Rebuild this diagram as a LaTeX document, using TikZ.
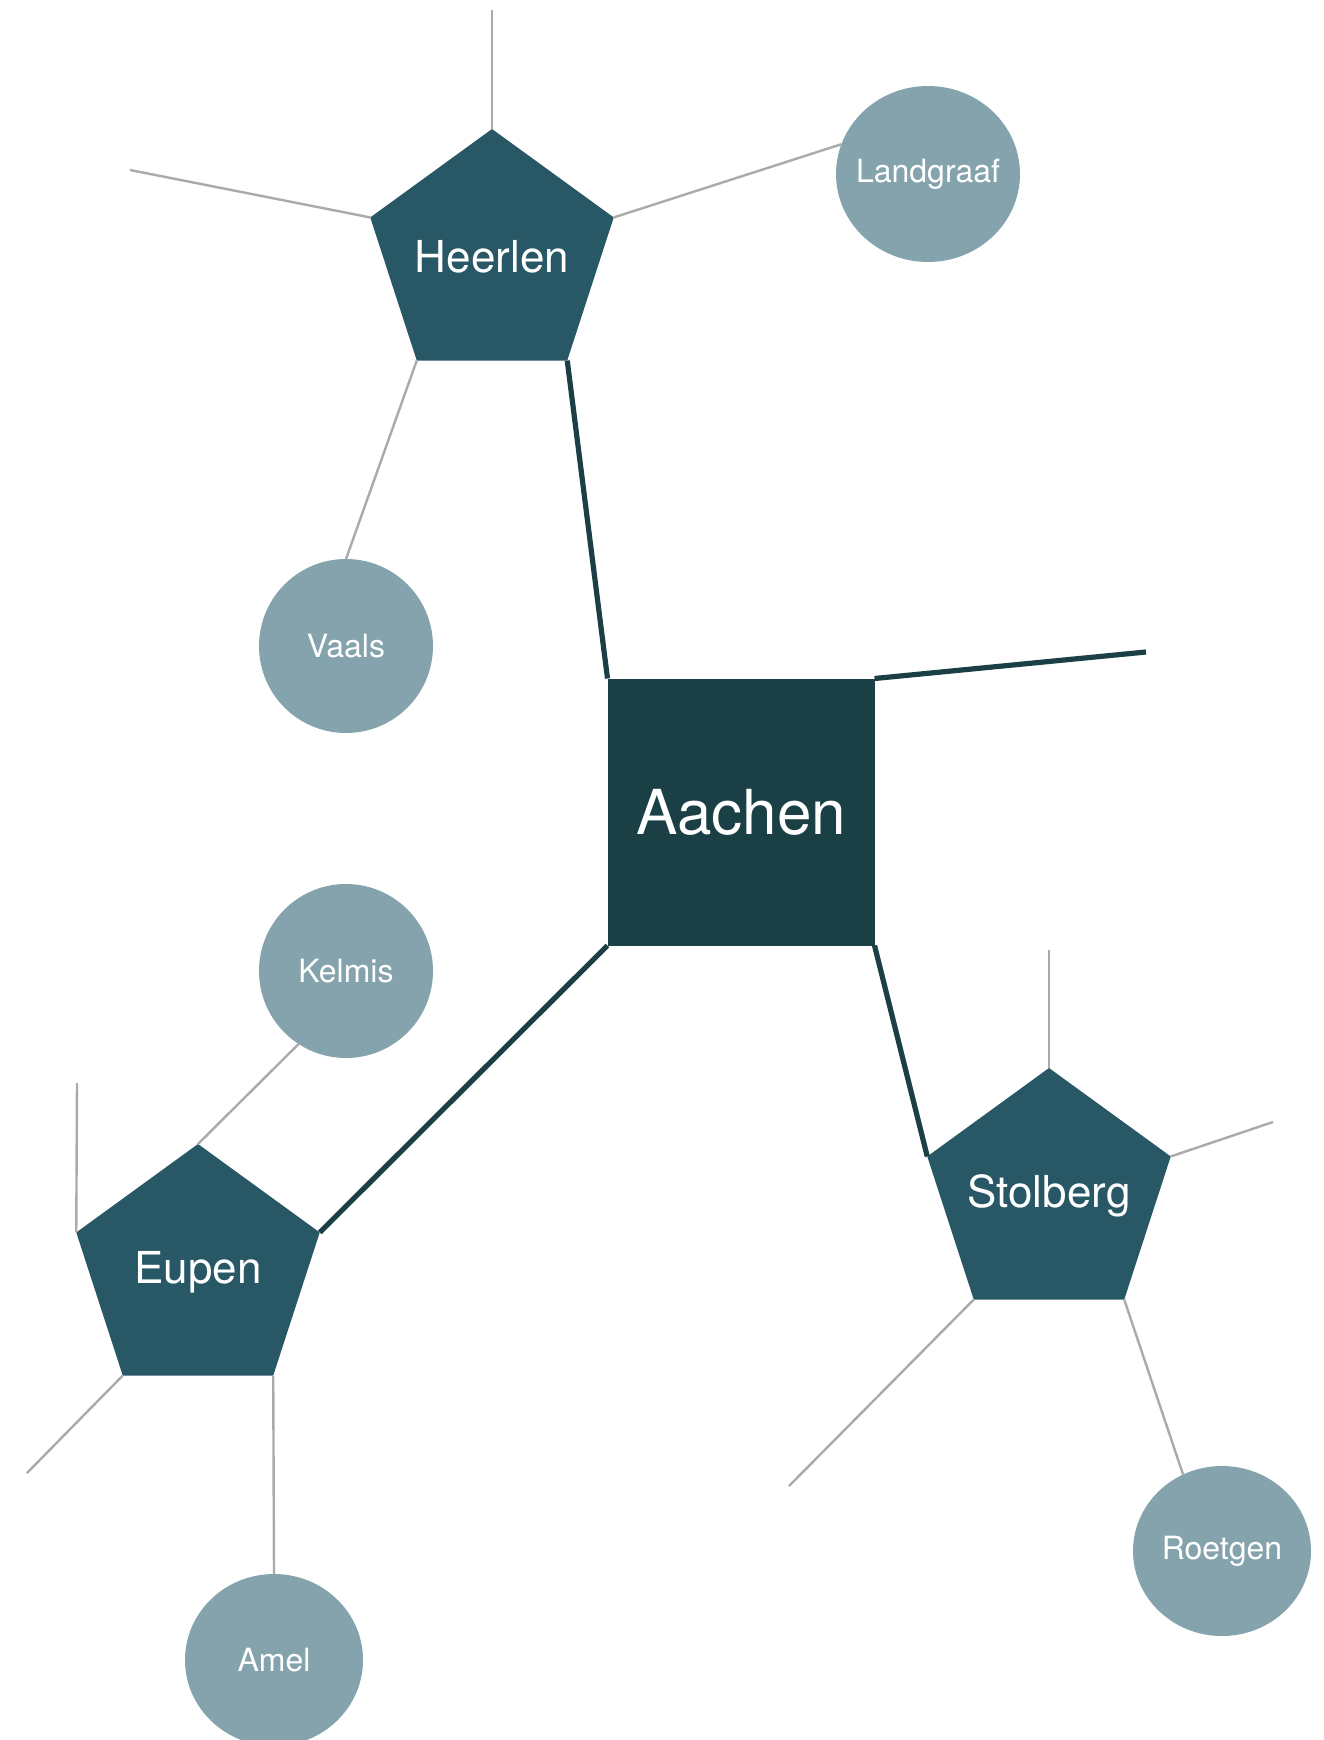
\documentclass[tikz,border=0pt]{standalone}
\usepackage{fontspec}
\setmainfont{TeX Gyre Heros}
\usepackage{tikz}
\usetikzlibrary{shapes.geometric}
\definecolor{hubcol}{HTML}{1A3F44}
\definecolor{citycol}{HTML}{285866}
\definecolor{towncol}{HTML}{84A3AD}
\definecolor{linkcol}{HTML}{AAAAAA}

\tikzset{
  hub/.style={rectangle, fill=hubcol, text=white, minimum width=133.5pt, minimum height=133.5pt,
    inner sep=0pt, outer sep=0pt, font=\fontsize{31}{36}\selectfont},
  city/.style={regular polygon, regular polygon sides=5, fill=citycol,
    minimum size=128pt, inner sep=0pt, outer sep=0pt,
    label={[text=white, font=\fontsize{22}{26}\selectfont]center:#1}},
  town/.style={ellipse, fill=towncol, minimum width=89pt, minimum height=86pt,
    inner sep=0pt, outer sep=0pt,
    label={[text=white, font=\fontsize{16}{19}\selectfont]center:#1}},
  mainlink/.style={draw=hubcol, line width=2.6pt},
  sidelink/.style={draw=linkcol, line width=1.2pt}
}

\begin{document}
\begin{tikzpicture}[x=0.5pt, y=-0.5pt]
\useasboundingbox (0,0) rectangle (1323,1740);

% centre
\node[hub] (aachen) at (741,812) {Aachen};

% cities
\node[city=Heerlen] (heerlen) at (492,257) {};
\node[city=Stolberg] (stolberg) at (1049,1196) {};
\node[city=Eupen] (eupen) at (198,1272) {};

% towns
\node[town=Landgraaf, minimum width=92pt, minimum height=88pt] (landgraaf) at (928,174) {};
\node[town=Vaals, minimum width=87pt, minimum height=87pt] (vaals) at (346,646) {};
\node[town=Kelmis, minimum width=87pt, minimum height=87pt] (kelmis) at (346,971) {};
\node[town=Amel] (amel) at (274,1660) {};
\node[town=Roetgen, minimum height=85pt] (roetgen) at (1222,1551) {};

% loose ends
\coordinate (aachenend) at (1146,652);
\coordinate (heerlenup) at (492,10);
\coordinate (heerlenleft) at (130,170);
\coordinate (stolbergup) at (1049,950);
\coordinate (stolbergright) at (1273,1122);
\coordinate (stolbergdown) at (789,1486);
\coordinate (eupenup) at (77,1083);
\coordinate (eupendown) at (27,1473);

% main links
\draw[mainlink] (heerlen.corner 4) -- (aachen.north west);
\draw[mainlink] (aachen.north east) -- (aachenend);
\draw[mainlink] (aachen.south west) -- (eupen.corner 5);
\draw[mainlink] (aachen.south east) -- (stolberg.corner 2);

% side links
\draw[sidelink] (heerlen.corner 1) -- (heerlenup);
\draw[sidelink] (heerlen.corner 2) -- (heerlenleft);
\draw[sidelink] (heerlen.corner 5) -- (landgraaf.161);
\draw[sidelink] (heerlen.corner 3) -- (vaals.north);
\draw[sidelink] (stolberg.corner 1) -- (stolbergup);
\draw[sidelink] (stolberg.corner 5) -- (stolbergright);
\draw[sidelink] (stolberg.corner 3) -- (stolbergdown);
\draw[sidelink] (stolberg.corner 4) -- (roetgen.117);
\draw[sidelink] (eupen.corner 1) -- (kelmis.237);
\draw[sidelink] (eupen.corner 2) -- (eupenup);
\draw[sidelink] (eupen.corner 3) -- (eupendown);
\draw[sidelink] (eupen.corner 4) -- (amel.north);
\end{tikzpicture}
\end{document}
